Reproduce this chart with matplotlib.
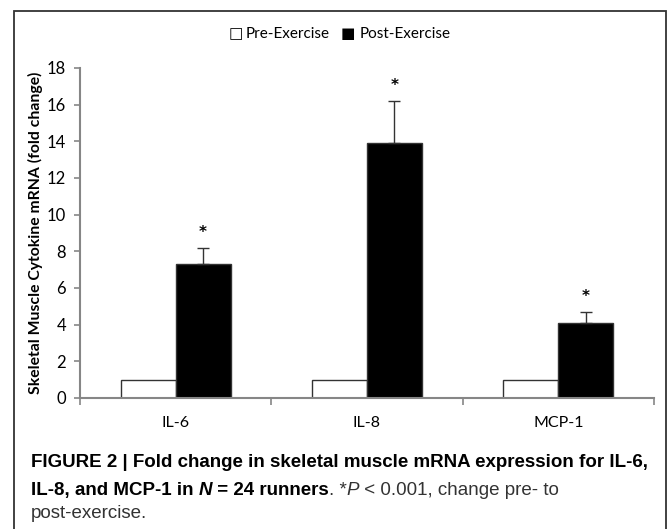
import numpy as np
import matplotlib
matplotlib.use("Agg")
import matplotlib.pyplot as plt
from matplotlib.patches import Rectangle

categories = ["IL-6", "IL-8", "MCP-1"]
pre_values = [1.0, 1.0, 1.0]
post_values = [7.3, 13.9, 4.1]
post_err = [0.9, 2.3, 0.6]

W, H = 668, 529
fig = plt.figure(figsize=(W / 100, H / 100), dpi=100)

# outer frame (bottom edge runs off the picture)
fig.patches.append(Rectangle((14 / W, -0.05), 652 / W, 1.05 - 11 / H, transform=fig.transFigure,
                             fill=False, edgecolor="#333333", lw=1.3))

ax = fig.add_axes([80 / W, 1 - 398 / H, (654 - 80) / W, (398 - 68) / H])
x = np.arange(len(categories))
bw = 0.287
axis_col = "#868686"

ax.bar(x - bw / 2, pre_values, bw, color="white", edgecolor="#333333", lw=1.0, zorder=2)
ax.bar(x + bw / 2, post_values, bw, color="black", edgecolor="#333333", lw=1.0, zorder=2)
ax.errorbar(x + bw / 2, post_values, yerr=[np.zeros(len(post_err)), post_err], fmt="none",
            ecolor="#333333", elinewidth=1.0, capsize=4, capthick=1.0, zorder=3)
for xi, v, e in zip(x, post_values, post_err):
    ax.text(xi + bw / 2, v + e + 0.85, "*", ha="center", va="center", fontsize=11,
            fontweight="bold", family="DejaVu Sans")

ax.set_xlim(-0.5, 2.5)
ax.set_ylim(0, 18)
ax.set_yticks(range(0, 19, 2))
ax.set_xticks([-0.5, 0.5, 1.5, 2.5])
ax.set_xticklabels([])
ax.set_xticks(x, minor=True)
ax.set_xticklabels(categories, minor=True, family="Lato", fontsize=11.5)
ax.tick_params(axis="x", which="minor", length=0, pad=13)
ax.tick_params(axis="x", which="major", length=5, color=axis_col, width=1.2)
ax.tick_params(axis="y", length=4, color=axis_col, width=1.2, pad=6, labelsize=12)
for lab in ax.get_yticklabels():
    lab.set_family("Lato")
for s in ["top", "right"]:
    ax.spines[s].set_visible(False)
for s in ["left", "bottom"]:
    ax.spines[s].set_color(axis_col)
    ax.spines[s].set_linewidth(1.5)
ax.set_ylabel("Skeletal Muscle Cytokine mRNA (fold change)", family="Lato", fontweight="bold",
              fontsize=11.3, labelpad=3)

# legend
fig.text(229 / W, 1 - 34 / H, "\u25a1", family="DejaVu Sans", fontsize=11, va="center", ha="left")
fig.text(246 / W, 1 - 34 / H, "Pre-Exercise", family="Lato", fontsize=11, va="center", ha="left")
fig.text(341 / W, 1 - 34 / H, "\u25a0", family="DejaVu Sans", fontsize=11, va="center", ha="left")
fig.text(360 / W, 1 - 34 / H, "Post-Exercise", family="Lato", fontsize=11, va="center", ha="left")

# caption, drawn piece by piece
fig.canvas.draw()
renderer = fig.canvas.get_renderer()
cap_size = 13.5
lines = [
    [("FIGURE 2 | Fold change in skeletal muscle mRNA expression for IL-6,", "bold", "normal")],
    [("IL-8, and MCP-1 in ", "bold", "normal"), ("N", "bold", "italic"), (" = 24 runners", "bold", "normal"),
     (". *", "normal", "normal"), ("P", "normal", "italic"), (" < 0.001, change pre- to", "normal", "normal")],
    [("post-exercise.", "normal", "normal")],
]
line_y = [467, 495, 518]
for parts, yy in zip(lines, line_y):
    xx = 31
    for txt, wt, st in parts:
        t = fig.text(xx / W, 1 - yy / H, txt, family="Liberation Sans", fontsize=cap_size,
                     fontweight=wt, fontstyle=st, va="baseline", ha="left",
                     color="black" if wt == "bold" else "#333333")
        bb = t.get_window_extent(renderer)
        xx += bb.width

fig.savefig("out.png", dpi=100)
